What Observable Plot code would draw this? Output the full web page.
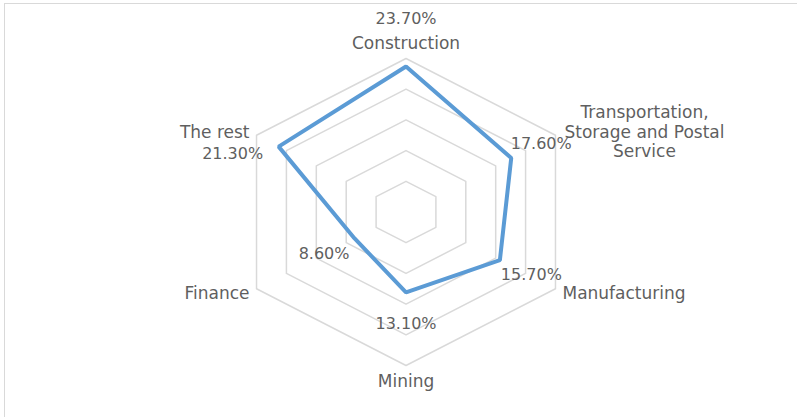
<!DOCTYPE html>
<html><head><meta charset="utf-8">
<script src="https://cdn.jsdelivr.net/npm/d3@7"></script>
<script src="https://cdn.jsdelivr.net/npm/@observablehq/plot@0.6"></script>
<style>
html,body{margin:0;padding:0;background:#fff;overflow:hidden;}
#wrap{position:relative;width:797px;height:417px;overflow:hidden;}
#border{position:absolute;left:4px;top:3px;width:900px;height:500px;border-top:1.5px solid #d9d9d9;border-left:1.5px solid #d9d9d9;}
#chart{position:absolute;left:0;top:0;}
</style></head><body>
<div id="wrap"><div id="border"></div><div id="chart"></div></div>
<script>
const categories = ["Construction", "Transportation,\nStorage and Postal\nService", "Manufacturing", "Mining", "Finance", "The rest"];
const values = [23.7, 17.6, 15.7, 13.1, 8.6, 21.3];
const valueLabels = ["23.70%", "17.60%", "15.70%", "13.10%", "8.60%", "21.30%"];
const gridLevels = [5, 10, 15, 20, 25];
const maxValue = 25;

// layout (pixel offsets for labels, Excel-like placement)
const valueOffsets = [[0,-48],[30,-14.5],[31.5,15],[0,31],[-30.5,15],[-46,7]];
const catLayout = [
  {anchor:"middle", dx:0, dy:-16},
  {anchor:"middle", dx:89, dy:-4},
  {anchor:"start", dx:7, dy:4},
  {anchor:"middle", dx:0, dy:15},
  {anchor:"end", dx:-7, dy:4},
  {anchor:"end", dx:-7, dy:-4}
];

const n = categories.length;
const ang = i => i * 2 * Math.PI / n;
const px = (r, i) => r * Math.sin(ang(i));
const py = (r, i) => r * Math.cos(ang(i));

const gridData = gridLevels.flatMap(l => categories.map((c, i) => ({level: l, x: px(l, i), y: py(l, i)})));
const series = values.map((v, i) => ({cat: categories[i], x: px(v, i), y: py(v, i), label: valueLabels[i]}));
const outer = categories.map((c, i) => ({cat: c, x: px(maxValue, i), y: py(maxValue, i)}));

const font = "DejaVu Sans, sans-serif";
const textColor = "#5f5f5f";

const marks = [
  Plot.line(gridData, {x: "x", y: "y", z: "level", curve: "linear-closed", stroke: "#d9d9d9", strokeWidth: 1.5}),
  Plot.line(series, {x: "x", y: "y", curve: "linear-closed", stroke: "#5b9bd5", strokeWidth: 4, strokeLinejoin: "miter"}),
  ...series.map((d, i) => Plot.text([d], {x: "x", y: "y", text: "label", dx: valueOffsets[i][0], dy: valueOffsets[i][1], fill: textColor, fontSize: 16, textAnchor: "middle", lineAnchor: "middle"})),
  ...outer.map((d, i) => Plot.text([d], {x: "x", y: "y", text: "cat", dx: catLayout[i].dx, dy: catLayout[i].dy, fill: textColor, fontSize: 17, textAnchor: catLayout[i].anchor, lineAnchor: "middle", lineHeight: 1.15}))
];

const chart = Plot.plot({
  width: 797,
  height: 417,
  margin: 0,
  style: {fontFamily: font, background: "transparent", overflow: "visible"},
  x: {domain: [-maxValue, maxValue], range: [232.9, 578.1], axis: null},
  y: {domain: [-maxValue, maxValue], range: [365, 58], axis: null},
  marks
});
document.getElementById("chart").appendChild(chart);
</script>
</body></html>
